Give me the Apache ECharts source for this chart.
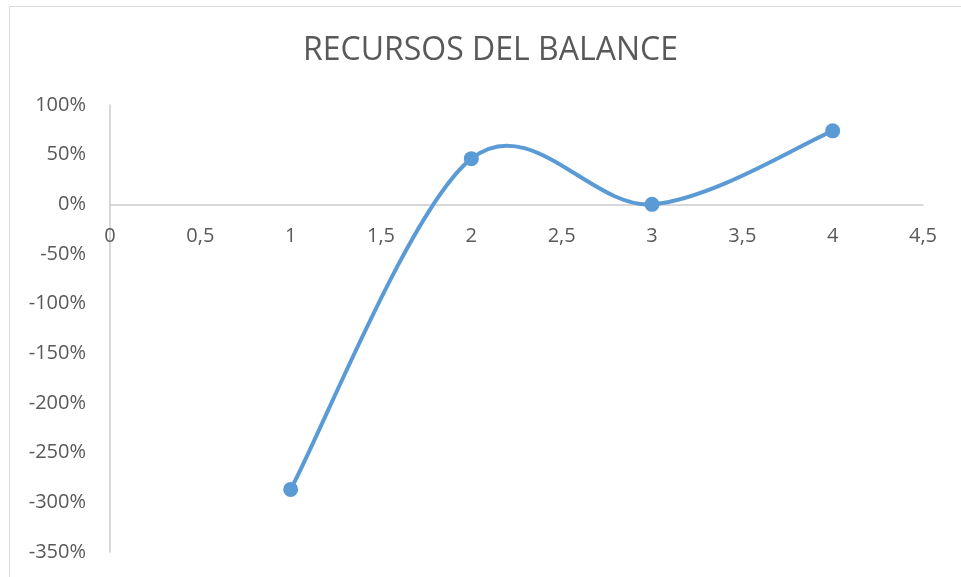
<!DOCTYPE html>
<html>
<head>
<meta charset="utf-8">
<script src="https://cdn.jsdelivr.net/npm/echarts@6/dist/echarts.min.js"></script>
<style>
html, body { margin: 0; padding: 0; background: #fff; }
#chart { width: 961px; height: 577px; }
</style>
</head>
<body>
<div id="chart"></div>
<script>
// x positions and values (in %)
var xValues = [1, 2, 3, 4];
var yValues = [-287, 46, 0, 74];
var titleText = 'RECURSOS DEL BALANCE';

var chart = echarts.init(document.getElementById('chart'), null, { renderer: 'canvas' });

var points = [];
for (var i = 0; i < xValues.length; i++) {
    points.push([xValues[i], yValues[i]]);
}

var labelFont = '"Open Sans", "Liberation Sans", sans-serif';
var lineColor = '#5b9bd5';

// smooth curve like the spreadsheet one: bezier segments, tangent = (next - prev) / 6
function renderCurve(params, api) {
    if (params.dataIndex !== 0) return;
    var px = points.map(function (p) { return api.coord(p); });
    var n = px.length;
    var d = 'M' + px[0][0] + ' ' + px[0][1];
    for (var k = 0; k < n - 1; k++) {
        var p0 = px[k > 0 ? k - 1 : k];
        var p1 = px[k];
        var p2 = px[k + 1];
        var p3 = px[k + 2 < n ? k + 2 : k + 1];
        var c1x = p1[0] + (p2[0] - p0[0]) / 6;
        var c1y = p1[1] + (p2[1] - p0[1]) / 6;
        var c2x = p2[0] - (p3[0] - p1[0]) / 6;
        var c2y = p2[1] - (p3[1] - p1[1]) / 6;
        d += ' C' + c1x + ' ' + c1y + ' ' + c2x + ' ' + c2y + ' ' + p2[0] + ' ' + p2[1];
    }
    return {
        type: 'path',
        shape: { pathData: d },
        style: { fill: 'none', stroke: lineColor, lineWidth: 4, lineCap: 'round', lineJoin: 'round' }
    };
}

var option = {
    backgroundColor: '#fff',
    animation: false,
    title: {
        text: titleText,
        left: 298,
        top: 30,
        textStyle: {
            color: '#595959',
            fontSize: 32,
            fontWeight: 'normal',
            fontFamily: labelFont
        }
    },
    graphic: [
        {
            type: 'rect',
            shape: { x: 9.5, y: 6.5, width: 1000, height: 1000 },
            style: { fill: 'none', stroke: '#d9d9d9', lineWidth: 1 },
            silent: true
        }
    ],
    grid: {
        left: 110,
        right: 38,
        top: 105,
        bottom: 25,
        outerBoundsMode: 'none'
    },
    xAxis: {
        type: 'value',
        min: 0,
        max: 4.5,
        interval: 0.5,
        offset: -347.7,
        axisLine: { show: true, onZero: false, lineStyle: { color: '#cccccc', width: 1.5 } },
        axisTick: { show: false },
        splitLine: { show: false },
        axisLabel: {
            color: '#595959',
            fontSize: 20,
            fontFamily: labelFont,
            margin: 22,
            formatter: function (v) { return String(v).replace('.', ','); }
        }
    },
    yAxis: {
        type: 'value',
        min: -350,
        max: 100,
        interval: 50,
        axisLine: { show: true, onZero: false, lineStyle: { color: '#cccccc', width: 1.5 } },
        axisTick: { show: false },
        splitLine: { show: false },
        axisLabel: {
            color: '#595959',
            fontSize: 20,
            fontFamily: labelFont,
            margin: 24,
            formatter: '{value}%'
        }
    },
    series: [
        {
            type: 'custom',
            data: points,
            renderItem: renderCurve,
            silent: true,
            z: 2
        },
        {
            type: 'scatter',
            data: points,
            symbol: 'circle',
            symbolSize: 15,
            itemStyle: { color: lineColor, opacity: 1 },
            z: 3
        }
    ]
};

chart.setOption(option);
window.addEventListener('resize', chart.resize);
</script>
</body>
</html>
